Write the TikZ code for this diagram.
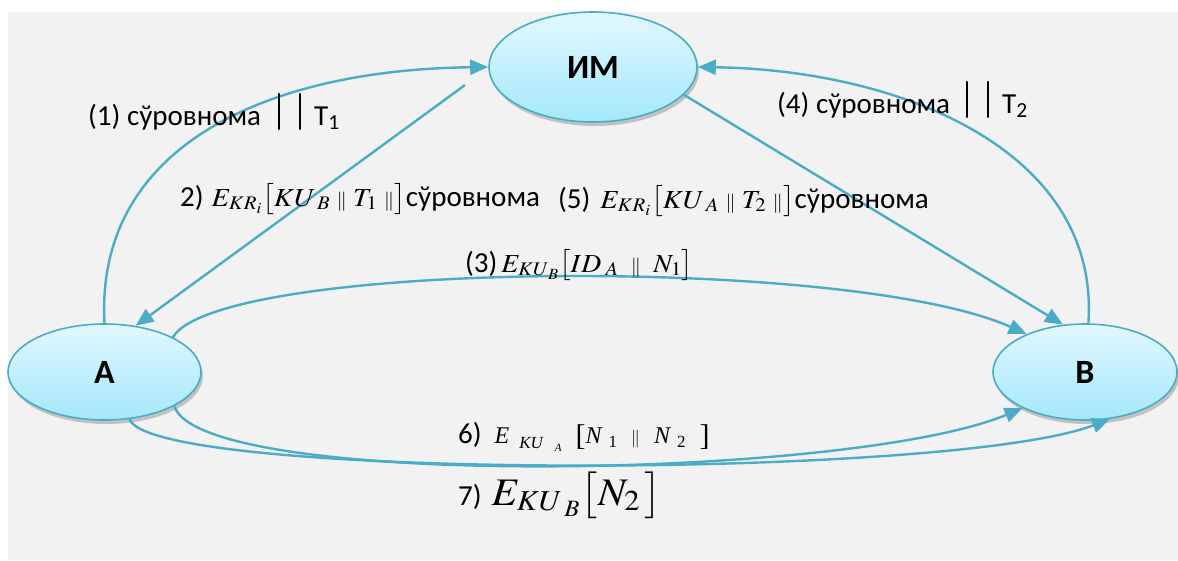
\documentclass[tikz,border=0pt]{standalone}
\usepackage{mathptmx}
\usepackage{graphicx}
\usepackage[no-math]{fontspec}
\setmainfont{Carlito}
\newfontfamily\tms{Liberation Serif}
\usetikzlibrary{shapes.geometric,arrows.meta,shadows}
\definecolor{lnc}{RGB}{75,172,198}
\definecolor{bgc}{RGB}{242,242,242}
\definecolor{topc}{RGB}{226,248,255}
\definecolor{botc}{RGB}{164,232,250}
\definecolor{edgec}{RGB}{75,172,198}
\newcommand{\bars}{{\tms\fontsize{40}{40}\selectfont\raisebox{4pt}{|}\hspace{13pt}\raisebox{4pt}{|}}}
\newcommand{\pp}{{\scriptstyle\|}}
\newcommand{\sbs}[2]{\raisebox{#1}{\fontsize{#2}{#2}\selectfont}}
\begin{document}
\begin{tikzpicture}[x=1pt,y=-1pt,
 ent/.style={ellipse, draw=edgec, line width=1.6pt, top color=topc, bottom color=botc, inner sep=0pt,
   font=\fontsize{34}{34}\selectfont\bfseries,
   drop shadow={shadow xshift=2pt, shadow yshift=-4pt, opacity=0.35, fill=black!60}},
 conn/.style={draw=lnc, line width=2.4pt, -{Triangle[length=18pt,width=15pt]}},
 lbl/.style={anchor=base west, inner sep=0pt, font=\fontsize{29}{32}\selectfont},
 mth/.style={anchor=base west, inner sep=0pt, font=\fontsize{26}{30}\selectfont}]
\useasboundingbox (0,0) rectangle (1178,560);
\fill[white] (0,0) rectangle (1178,560);
\fill[bgc] (8,12) rectangle (1178,560);

\node[ent, minimum width=208pt, minimum height=110pt] (im) at (593,67) {ИМ};
\node[ent, minimum width=193pt, minimum height=96pt] (a) at (104.5,372) {A};
\node[ent, minimum width=184pt, minimum height=96pt] (b) at (1085,372) {B};

\coordinate (s2) at (465,85);
% (1)
\draw[conn] (a.north) .. controls (95,150) and (260,70) .. (im.west);
% (4)
\draw[conn] (b.86) .. controls (1100,150) and (900,70) .. (im.east);
% (2)
\draw[conn] (s2) -- (a.56);
% (5)
\draw[conn] (im.-17) -- (b.115);
% (3)
\draw[conn] (a.27) .. controls (220,260) and (850,255) .. (b.147);
% (6)
\draw[conn] (a.-26) .. controls (200,490) and (850,480) .. (b.210);
% (7)
\draw[conn] (a.-62) .. controls (150,480) and (950,480) .. (b.-62);

\node[lbl] (l1) at (88,125) {(1) сўровнома\hspace{14pt}\bars\hspace{10pt}T\textsubscript{1}};
\node[lbl] (l4) at (777,113) {(4) сўровнома\hspace{13pt}\bars\hspace{10pt}T\textsubscript{2}};
\node[mth] (l2) at (180,206) {{\fontsize{29}{29}\selectfont 2)}\hspace{8pt}\scalebox{1.08}[1]{$E_{KR_{i}}\bigl[KU_{\;B}\;\pp\;T_{1}\;\pp\bigr]$}\fontsize{29}{29}\selectfont сўровнома};
\node[mth] (l5) at (558,208) {{\fontsize{29}{29}\selectfont (5)}\hspace{10pt}\scalebox{1.08}[1]{$E_{KR_{i}}\bigl[KU_{\;A}\;\pp\;T_{2}\;\pp\bigr]$}\fontsize{29}{29}\selectfont сўровнома};
\node[mth] (l3) at (465,272) {{\fontsize{29}{29}\selectfont (3)}\hspace{4pt}\scalebox{1.06}[1]{$E_{KU_{\,B}}\bigl[ID_{\;A}\;\;\pp\;\;N_{1}\bigr]$}};
\node[mth, font=\fontsize{24}{28}\selectfont] (l6) at (458,443) {{\fontsize{29}{29}\selectfont 6)}\hspace{13pt}{\tms\itshape E\hspace{10pt}\raisebox{-5pt}{\fontsize{17}{17}\selectfont KU}\hspace{12pt}\raisebox{-8pt}{\fontsize{11}{11}\selectfont A}\hspace{14pt}\upshape\raisebox{-2pt}{\fontsize{30}{30}\selectfont[}\itshape N\hspace{7pt}\upshape\raisebox{-4pt}{\fontsize{17}{17}\selectfont 1}\hspace{14pt}$\pp$\hspace{14pt}\itshape N\hspace{7pt}\upshape\raisebox{-4pt}{\fontsize{17}{17}\selectfont 2}\hspace{14pt}\raisebox{-2pt}{\fontsize{30}{30}\selectfont]}}};
\node[mth, font=\fontsize{39}{46}\selectfont] (l7) at (458,505) {{\fontsize{29}{29}\selectfont 7)}\hspace{10pt}\scalebox{1.06}[1]{$E_{KU_{\;B}}\bigl[N_2\,\bigr]$}};
\end{tikzpicture}
\end{document}
